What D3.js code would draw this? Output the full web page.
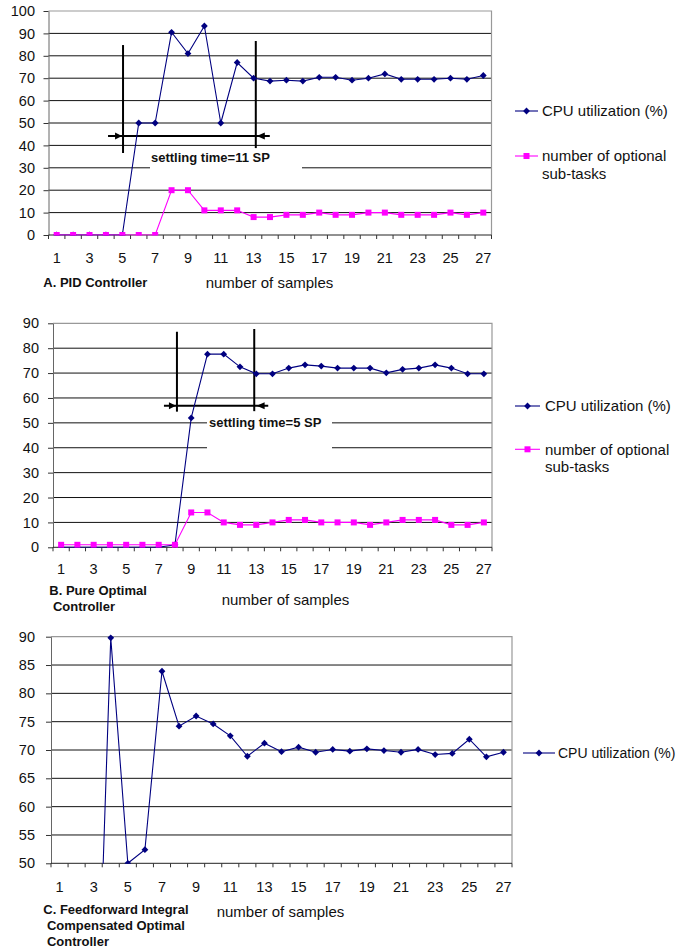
<!DOCTYPE html>
<html><head><meta charset="utf-8">
<script src="https://cdn.jsdelivr.net/npm/d3@7"></script>
<style>
body{margin:0;background:#fff}
svg{display:block}
text{font-family:"Liberation Sans",Arial,sans-serif;fill:#111}
</style>
</head><body>
<svg id="chart" width="677" height="951"></svg>
<script>
// ---------- data ----------
const samples = [1,2,3,4,5,6,7,8,9,10,11,12,13,14,15,16,17,18,19,20,21,22,23,24,25,26,27];
const xTickLabels = [1,3,5,7,9,11,13,15,17,19,21,23,25,27];

const cpuA   = [0,0,0,0,0,50,50,90.5,81,93.3,50,77,70,68.7,69.1,68.7,70.4,70.4,69.1,70,71.9,69.5,69.5,69.5,70,69.5,71.2];
const tasksA = [0,0,0,0,0,0,0,20,20,11,11,11,8,8,9,9,10,9,9,10,10,9,9,9,10,9,10];
const yTicksA = [0,10,20,30,40,50,60,70,80,90,100];

const cpuB   = [0,0,0,0,0,0,0,1,52,77.6,77.6,72.5,69.7,69.7,72,73.3,72.8,72,72,72,70.1,71.5,72,73.3,72,69.7,69.7];
const tasksB = [1,1,1,1,1,1,1,1,14,14,10,9,9,10,11,11,10,10,10,9,10,11,11,11,9,9,10];
const yTicksB = [0,10,20,30,40,50,60,70,80,90];

const cpuC   = [0,0,0,89.8,50,52.4,83.9,74.2,76,74.6,72.5,68.9,71.2,69.7,70.5,69.6,70.1,69.8,70.2,69.9,69.6,70.1,69.2,69.4,71.9,68.8,69.6];
const yTicksC = [50,55,60,65,70,75,80,85,90];

const cpuLabel  = ["CPU utilization (%)"];
const taskLabel = ["number of optional","sub-tasks"];
const xTitle = "number of samples";
const titleA = ["A. PID Controller"];
const titleB = ["B. Pure Optimal"," Controller"];
const titleC = ["C. Feedforward Integral"," Compensated Optimal"," Controller"];
const noteA = "settling time=11 SP";
const noteB = "settling time=5 SP";

// ---------- styles ----------
const NAVY = "#000080", PINK = "#ff00ff";
const svg = d3.select("#chart");
const defs = svg.append("defs");

function marker(sel, type, color){
  if(type==="cpu"){
    sel.append("path").attr("d","M0,-3.4L3.4,0L0,3.4L-3.4,0Z").attr("fill",color);
  } else {
    sel.append("rect").attr("x",-3).attr("y",-3).attr("width",6).attr("height",6).attr("fill",color);
  }
}

function panel(o, idx){
  const g = svg.append("g");
  const x = d3.scaleBand().domain(samples).range([o.left,o.right]);
  const cx = s => x(s) + x.bandwidth()/2;
  const y = d3.scaleLinear().domain(o.domain).range([o.bottom,o.top]);

  // gridlines
  g.append("g").selectAll("line").data(o.ticks.filter(v=>v>o.domain[0] && v<o.domain[1]))
    .join("line").attr("x1",o.left).attr("x2",o.right)
    .attr("y1",d=>y(d)).attr("y2",d=>y(d)).attr("stroke","#111").attr("stroke-width",1);
  // plot border top/right
  g.append("path").attr("d",`M${o.left},${y(o.domain[1])}H${o.right}V${o.bottom}`)
    .attr("fill","none").attr("stroke","#999").attr("stroke-width",1.2);

  // annotation text box
  if(o.note){
    const n = o.note;
    g.append("rect").attr("x",n.boxX0).attr("width",n.boxX1-n.boxX0)
      .attr("y",y(n.boxTop)).attr("height",y(n.boxBot)-y(n.boxTop)).attr("fill","#fff");
  }

  // y axis
  const ya = g.append("g").attr("transform",`translate(${o.left},0)`)
    .call(d3.axisLeft(y).tickValues(o.ticks).tickSize(5).tickPadding(o.labelPad).tickSizeOuter(0));
  ya.select(".domain").attr("stroke","#666");
  ya.selectAll(".tick line").attr("stroke","#333");
  ya.selectAll("text").attr("font-size",14.5).attr("fill","#222").style("font-family",'"Liberation Sans",Arial,sans-serif');

  // x axis labels
  const xa = g.append("g").attr("transform",`translate(0,${o.bottom})`)
    .call(d3.axisBottom(x).tickValues(xTickLabels).tickSize(0).tickPadding(o.xLabelPad));
  xa.select(".domain").remove();
  xa.selectAll("text").attr("font-size",14.5).attr("fill","#222").style("font-family",'"Liberation Sans",Arial,sans-serif');
  // x axis line + boundary ticks
  g.append("line").attr("x1",o.left).attr("x2",o.right).attr("y1",o.bottom).attr("y2",o.bottom)
    .attr("stroke","#222").attr("stroke-width",1);
  g.append("g").selectAll("line").data(samples.concat(["end"]))
    .join("line")
    .attr("x1",d=>d==="end"?o.right:x(d)).attr("x2",d=>d==="end"?o.right:x(d))
    .attr("y1",o.bottom).attr("y2",o.bottom+4).attr("stroke","#333");

  // annotation lines
  if(o.note){
    const n = o.note;
    const xl = cx(n.from)+n.dxFrom, xr = cx(n.to)+n.dxTo;
    const la = g.append("g").attr("stroke","#000").attr("stroke-width",2);
    la.append("line").attr("x1",xl).attr("x2",xl).attr("y1",y(n.leftTop)).attr("y2",y(n.leftBot));
    la.append("line").attr("x1",xr).attr("x2",xr).attr("y1",y(n.rightTop)).attr("y2",y(n.rightBot));
    const ay = y(n.arrowAt);
    la.append("line").attr("x1",xl-n.extL).attr("x2",xr+n.extR).attr("y1",ay).attr("y2",ay);
    g.append("path").attr("d",`M${xl-1},${ay}L${xl-8},${ay-3.5}L${xl-8},${ay+3.5}Z`).attr("fill","#000");
    g.append("path").attr("d",`M${xr+n.tipR},${ay}L${xr+n.tipR+8},${ay-3.5}L${xr+n.tipR+8},${ay+3.5}Z`).attr("fill","#000");
    g.append("text").attr("x",n.textX).attr("y",y(n.textAt)+4.6).text(n.text)
      .attr("font-size",13).attr("font-weight","bold");
  }

  // series
  const clipId = "clip"+idx;
  defs.append("clipPath").attr("id",clipId).append("rect")
    .attr("x",o.left-5).attr("y",o.top-5).attr("width",o.right-o.left+10).attr("height",o.bottom-o.top+5.5);
  const sg = g.append("g").attr("clip-path",`url(#${clipId})`);
  o.series.forEach(s=>{
    const color = s.type==="cpu"?NAVY:PINK;
    const pts = samples.map((k,i)=>({k, v:s.values[i]}));
    sg.append("path").datum(pts)
      .attr("d",d3.line().x(d=>cx(d.k)).y(d=>y(d.v)))
      .attr("fill","none").attr("stroke",color).attr("stroke-width",1.1);
    sg.append("g").selectAll("g").data(pts).join("g")
      .attr("transform",d=>`translate(${cx(d.k)},${y(d.v)})`)
      .each(function(){ marker(d3.select(this), s.type, color); });
  });

  // titles
  const t = g.append("text").attr("font-size",13).attr("font-weight","bold");
  o.title.forEach((line,i)=>{
    t.append("tspan").attr("x",o.titleX).attr("y",o.titleY+i*16).style("white-space","pre").text(line);
  });
  t.attr("xml:space","preserve");
  g.append("text").attr("x",o.xTitleX).attr("y",o.xTitleY).attr("font-size",15).text(xTitle);

  // legend
  o.legend.forEach(L=>{
    const color = L.type==="cpu"?NAVY:PINK;
    const lg = g.append("g");
    lg.append("line").attr("x1",o.legX).attr("x2",o.legX+o.legW).attr("y1",L.y).attr("y2",L.y)
      .attr("stroke",color).attr("stroke-width",1.1);
    const m = lg.append("g").attr("transform",`translate(${o.legX+o.legW/2},${L.y})`);
    marker(m, L.type, color);
    const tx = lg.append("text").attr("font-size",o.legFont);
    L.lines.forEach((line,i)=>{
      tx.append("tspan").attr("x",o.legX+o.legW+o.legGap).attr("y",L.y+o.legFont*0.35+i*17.5).text(line);
    });
  });
}

panel({
  left:48.5, right:491.5, top:11, bottom:235, domain:[0,100], ticks:yTicksA,
  labelPad:8.5, xLabelPad:17.5,
  series:[{type:"cpu",values:cpuA},{type:"task",values:tasksA}],
  title:titleA, titleX:43.3, titleY:287, xTitleX:205.7, xTitleY:288,
  legX:515, legW:23, legFont:15, legGap:4,
  legend:[{type:"cpu",y:111,lines:cpuLabel},{type:"task",y:156,lines:taskLabel}],
  note:{from:5,to:13,dxFrom:0.7,dxTo:2.2,leftTop:84.8,leftBot:36.6,rightTop:86.6,rightBot:38.8,
        arrowAt:44.2,extL:15,extR:14,tipR:1,text:noteA,textX:151,textAt:34.5,
        boxX0:150,boxX1:302,boxTop:38.3,boxBot:28.8}
},0);

panel({
  left:53, right:492, top:323.3, bottom:547.3, domain:[0,90], ticks:yTicksB,
  labelPad:9, xLabelPad:16,
  series:[{type:"cpu",values:cpuB},{type:"task",values:tasksB}],
  title:titleB, titleX:49.3, titleY:594.6, xTitleX:221.7, xTitleY:604.5,
  legX:515, legW:25, legFont:15, legGap:5,
  legend:[{type:"cpu",y:406,lines:cpuLabel},{type:"task",y:449.3,lines:taskLabel}],
  note:{from:8,to:13,dxFrom:2,dxTo:-2,leftTop:86.6,leftBot:54.5,rightTop:87.7,rightBot:54.7,
        arrowAt:56.9,extL:13,extR:14,tipR:2.4,text:noteB,textX:209,textAt:50,
        boxX0:207,boxX1:332,boxTop:54.3,boxBot:39.2}
},1);

panel({
  left:51, right:512, top:636.7, bottom:863.3, domain:[50,90], ticks:yTicksC,
  labelPad:11, xLabelPad:18.4,
  series:[{type:"cpu",values:cpuC}],
  title:titleC, titleX:43.3, titleY:914, xTitleX:216.7, xTitleY:917,
  legX:523, legW:32, legFont:14, legGap:3,
  legend:[{type:"cpu",y:753,lines:cpuLabel}]
},2);
</script>
</body></html>
